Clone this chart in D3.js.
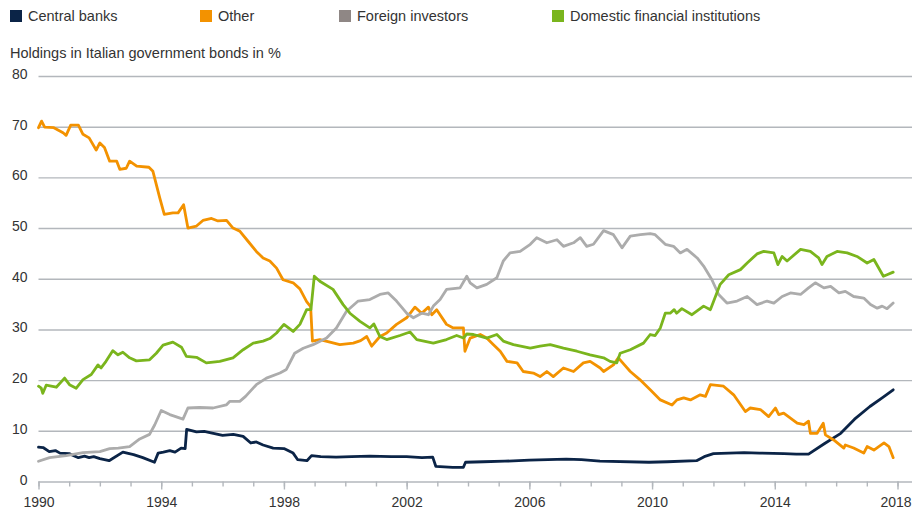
<!DOCTYPE html>
<html>
<head>
<meta charset="utf-8">
<script src="https://cdn.jsdelivr.net/npm/d3@7"></script>
<style>
  body { margin: 0; background: #fff; }
  text { font-family: "Liberation Sans", Arial, sans-serif; fill: #333; }
</style>
</head>
<body>
<div class="chart"></div>
<script>
// [decimal year, % of Italian government bonds held]
const centralBanks = [[1990.0,6.8],[1990.15,6.7],[1990.35,5.9],[1990.55,6.1],[1990.7,5.6],[1991.0,5.5],[1991.3,4.7],[1991.5,5.0],[1991.65,4.7],[1991.8,4.9],[1992.0,4.5],[1992.3,4.1],[1992.75,5.8],[1993.1,5.3],[1993.4,4.7],[1993.78,3.8],[1993.9,5.6],[1994.07,5.8],[1994.28,6.1],[1994.45,5.8],[1994.65,6.6],[1994.78,6.5],[1994.83,10.3],[1995.15,9.8],[1995.4,9.9],[1995.7,9.5],[1996.0,9.1],[1996.35,9.3],[1996.67,8.9],[1996.92,7.6],[1997.1,7.8],[1997.32,7.2],[1997.65,6.6],[1998.0,6.5],[1998.3,5.6],[1998.45,4.3],[1998.75,4.1],[1998.9,5.1],[1999.2,4.9],[1999.7,4.8],[2000.2,4.9],[2000.8,5.0],[2001.5,4.9],[2002.0,4.9],[2002.5,4.7],[2002.85,4.8],[2002.95,3.0],[2003.5,2.8],[2003.85,2.8],[2003.92,3.8],[2004.5,3.9],[2005.2,4.0],[2006.0,4.2],[2007.2,4.4],[2007.7,4.3],[2008.3,4.0],[2009.9,3.8],[2010.5,3.9],[2011.45,4.1],[2011.7,4.9],[2012.0,5.5],[2013.0,5.7],[2013.5,5.6],[2014.3,5.5],[2014.7,5.4],[2015.1,5.4],[2015.6,7.4],[2016.15,9.5],[2016.6,12.3],[2017.1,14.8],[2017.5,16.5],[2017.86,18.1]];

const other = [[1990.0,69.8],[1990.1,71.1],[1990.2,69.9],[1990.5,69.8],[1990.8,68.8],[1990.9,68.3],[1991.05,70.3],[1991.3,70.3],[1991.45,68.5],[1991.65,67.8],[1991.88,65.4],[1992.0,66.8],[1992.15,65.9],[1992.32,63.2],[1992.55,63.2],[1992.65,61.6],[1992.86,61.8],[1992.97,63.2],[1993.2,62.2],[1993.6,62.0],[1993.73,61.2],[1993.95,56.0],[1994.1,52.7],[1994.38,53.0],[1994.55,53.0],[1994.73,54.6],[1994.87,50.0],[1995.15,50.4],[1995.36,51.5],[1995.64,51.9],[1995.85,51.4],[1996.13,51.5],[1996.34,50.0],[1996.56,49.4],[1996.83,47.4],[1997.1,45.4],[1997.32,44.1],[1997.54,43.5],[1997.76,42.1],[1997.97,39.8],[1998.3,39.2],[1998.52,38.0],[1998.74,35.5],[1998.87,34.5],[1998.93,27.7],[1999.17,28.0],[1999.5,27.5],[1999.82,27.0],[2000.26,27.3],[2000.5,27.8],[2000.7,28.6],[2000.86,26.7],[2001.13,28.6],[2001.35,29.3],[2001.67,31.0],[2002.0,32.3],[2002.27,34.4],[2002.49,33.2],[2002.71,34.4],[2002.82,32.9],[2002.98,33.9],[2003.3,31.0],[2003.52,30.3],[2003.85,30.3],[2003.9,25.7],[2004.07,28.3],[2004.4,29.0],[2004.61,28.3],[2004.83,27.0],[2005.05,25.7],[2005.27,23.7],[2005.6,23.4],[2005.8,21.7],[2006.13,21.4],[2006.35,20.7],[2006.57,21.7],[2006.78,20.7],[2007.11,22.4],[2007.44,21.7],[2007.76,23.4],[2007.98,23.7],[2008.31,22.4],[2008.42,21.7],[2008.74,23.0],[2008.9,24.4],[2009.1,23.0],[2009.29,21.7],[2009.6,20.1],[2009.94,18.1],[2010.27,16.1],[2010.65,15.1],[2010.81,16.1],[2011.03,16.5],[2011.25,16.1],[2011.57,17.1],[2011.74,16.8],[2011.9,19.1],[2012.33,18.8],[2012.66,17.1],[2013.04,13.8],[2013.2,14.5],[2013.53,14.2],[2013.8,12.8],[2014.02,14.5],[2014.13,13.2],[2014.29,13.5],[2014.73,11.5],[2014.95,11.2],[2015.1,11.9],[2015.16,9.5],[2015.38,9.5],[2015.58,11.5],[2015.65,9.2],[2015.92,8.2],[2016.25,6.6],[2016.3,7.2],[2016.57,6.6],[2016.9,5.6],[2017.01,6.9],[2017.23,6.2],[2017.56,7.6],[2017.72,6.9],[2017.86,4.7]];

const foreignInvestors = [[1990.0,4.0],[1990.36,4.7],[1990.9,5.1],[1991.45,5.7],[1992.0,5.9],[1992.32,6.5],[1992.6,6.6],[1992.97,6.9],[1993.3,8.4],[1993.62,9.3],[1993.79,11.2],[1994.0,14.0],[1994.28,13.2],[1994.71,12.3],[1994.87,14.5],[1995.25,14.6],[1995.69,14.5],[1996.12,15.1],[1996.23,15.8],[1996.56,15.8],[1996.75,16.8],[1997.1,19.1],[1997.43,20.4],[1997.87,21.4],[1998.08,22.1],[1998.35,25.3],[1998.63,26.3],[1998.95,27.0],[1999.39,28.3],[1999.71,30.3],[2000.04,33.6],[2000.42,35.6],[2000.8,35.9],[2001.13,36.9],[2001.4,37.2],[2001.67,35.6],[2002.0,33.2],[2002.22,32.3],[2002.49,33.2],[2002.71,32.9],[2002.87,34.6],[2003.09,35.9],[2003.3,37.9],[2003.74,38.2],[2003.96,40.5],[2004.07,39.2],[2004.29,38.2],[2004.61,38.9],[2004.94,40.2],[2005.15,43.5],[2005.37,45.1],[2005.7,45.4],[2006.03,46.8],[2006.24,48.1],[2006.57,47.1],[2006.9,47.7],[2007.11,46.4],[2007.44,47.1],[2007.66,48.1],[2007.87,46.4],[2008.09,46.8],[2008.42,49.5],[2008.74,48.7],[2009.02,46.1],[2009.29,48.4],[2009.62,48.7],[2009.94,48.9],[2010.1,48.7],[2010.43,46.8],[2010.7,46.4],[2010.92,45.1],[2011.14,45.8],[2011.47,44.1],[2011.68,42.5],[2011.95,39.8],[2012.17,36.9],[2012.44,35.2],[2012.77,35.6],[2013.1,36.5],[2013.42,34.9],[2013.75,35.6],[2013.97,35.2],[2014.24,36.5],[2014.51,37.2],[2014.84,36.9],[2015.1,38.2],[2015.32,39.2],[2015.6,38.2],[2015.82,38.5],[2016.09,37.2],[2016.3,37.5],[2016.57,36.5],[2016.9,36.2],[2017.12,34.9],[2017.34,34.2],[2017.5,34.6],[2017.66,34.1],[2017.86,35.2]];

const domesticInstitutions = [[1990.0,18.8],[1990.09,18.4],[1990.14,17.4],[1990.25,19.0],[1990.58,18.6],[1990.85,20.4],[1991.01,19.1],[1991.23,18.4],[1991.45,20.1],[1991.72,21.1],[1991.94,23.0],[1992.04,22.4],[1992.2,23.7],[1992.42,25.8],[1992.59,25.0],[1992.75,25.5],[1992.97,24.4],[1993.19,23.8],[1993.62,24.0],[1993.84,25.3],[1994.06,26.9],[1994.38,27.5],[1994.66,26.5],[1994.82,24.7],[1995.15,24.5],[1995.47,23.4],[1995.91,23.7],[1996.34,24.4],[1996.67,26.0],[1997.0,27.3],[1997.32,27.7],[1997.54,28.2],[1997.76,29.3],[1998.0,31.0],[1998.3,29.6],[1998.52,31.0],[1998.74,33.9],[1998.88,33.9],[1998.99,40.5],[1999.17,39.5],[1999.6,37.9],[1999.93,34.9],[2000.15,33.2],[2000.48,31.6],[2000.8,30.3],[2000.93,31.1],[2001.13,28.6],[2001.35,28.0],[2001.78,28.8],[2002.11,29.5],[2002.33,28.0],[2002.87,27.3],[2003.3,28.0],[2003.63,28.8],[2003.85,28.3],[2003.96,29.1],[2004.18,29.0],[2004.61,28.3],[2004.94,29.0],[2005.15,27.7],[2005.48,27.0],[2006.03,26.3],[2006.35,26.7],[2006.68,27.0],[2007.11,26.3],[2007.55,25.7],[2007.98,25.0],[2008.42,24.4],[2008.63,23.7],[2008.85,23.4],[2008.96,25.3],[2009.29,26.0],[2009.72,27.3],[2009.94,29.0],[2010.1,28.8],[2010.27,30.3],[2010.43,33.2],[2010.59,33.2],[2010.72,33.9],[2010.8,33.2],[2010.97,34.1],[2011.3,32.9],[2011.68,34.6],[2011.9,33.9],[2012.22,38.9],[2012.5,40.8],[2012.88,41.8],[2013.1,43.1],[2013.42,44.9],[2013.64,45.4],[2013.97,45.1],[2014.1,42.8],[2014.24,44.4],[2014.4,43.5],[2014.84,45.8],[2015.16,45.4],[2015.43,44.1],[2015.54,42.8],[2015.7,44.4],[2016.03,45.4],[2016.36,45.1],[2016.68,44.4],[2017.01,43.1],[2017.23,43.8],[2017.54,40.5],[2017.66,40.8],[2017.86,41.3]];

const seriesNames = ["Central banks", "Other", "Foreign investors", "Domestic financial institutions"];
const seriesData = [centralBanks, other, foreignInvestors, domesticInstitutions];
const lineColors = ["#0b2447", "#f39200", "#acacac", "#7ab51d"];
const legendColors = ["#0b2447", "#f39200", "#8f8785", "#7ab51d"];
const legendX = [10, 200, 339, 552];

const yTicks = [0, 10, 20, 30, 40, 50, 60, 70, 80];
const yearLabels = [1990, 1994, 1998, 2002, 2006, 2010, 2014, 2018];
const allYears = d3.range(1990, 2019);

const W = 912, H = 515;
const margin = ({top: 76, right: 14.5, bottom: 33.5, left: 38.5});

const svg = d3.select(".chart").append("svg")
    .attr("width", W)
    .attr("height", H);

const xScale = d3.scaleLinear()
    .domain([1990, 2018])
    .range([margin.left, W - margin.right]);

const yScale = d3.scaleLinear()
    .domain([0, 80])
    .range([H - margin.bottom, margin.top]);

// gridlines + y labels
const yAxis = d3.axisLeft(yScale)
    .tickValues(yTicks)
    .tickSize(-(W - margin.left))
    .tickPadding(11)
    .tickFormat(d3.format("d"));

const gy = svg.append("g")
    .attr("class", "y-axis")
    .attr("transform", "translate(" + margin.left + ",0)")
    .call(yAxis);
gy.select(".domain").remove();
gy.selectAll("line").attr("stroke", "#b3b7bc").attr("stroke-width", 1.4);
gy.selectAll("text")
    .attr("dy", "0.18em")
    .style("font-size", "14px")
    .style("fill", "#333");

// x axis: yearly minor ticks, 4-year labelled ticks
const xMinor = d3.axisBottom(xScale)
    .tickValues(allYears)
    .tickSize(5)
    .tickFormat("");
const gxm = svg.append("g")
    .attr("transform", "translate(0," + yScale(0) + ")")
    .call(xMinor);
gxm.select(".domain").remove();
gxm.selectAll("line").attr("stroke", "#b3b7bc").attr("stroke-width", 1.4);

const xAxis = d3.axisBottom(xScale)
    .tickValues(yearLabels)
    .tickSize(8)
    .tickPadding(8)
    .tickFormat(d3.format("d"));
const gx = svg.append("g")
    .attr("class", "x-axis")
    .attr("transform", "translate(0," + yScale(0) + ")")
    .call(xAxis);
gx.select(".domain").remove();
gx.selectAll("line").attr("stroke", "#b3b7bc").attr("stroke-width", 1.4);
gx.selectAll("text")
    .style("font-size", "14px")
    .style("fill", "#333");
// last label sits at the right edge
gx.selectAll("text").filter(d => d === 2018).attr("dx", "-2");

// lines
const line = d3.line()
    .x(d => xScale(d[0]))
    .y(d => yScale(d[1]));

svg.selectAll(".series")
    .data(seriesData)
    .enter().append("path")
    .attr("class", "series")
    .attr("d", line)
    .attr("fill", "none")
    .attr("stroke", (d, i) => lineColors[i])
    .attr("stroke-width", 2.8)
    .attr("stroke-linejoin", "round")
    .attr("stroke-linecap", "round");

// legend
const legend = svg.selectAll(".legend")
    .data(seriesNames)
    .enter().append("g")
    .attr("class", "legend")
    .attr("transform", (d, i) => "translate(" + legendX[i] + ",10)");
legend.append("rect")
    .attr("width", 12)
    .attr("height", 12)
    .attr("fill", (d, i) => legendColors[i]);
legend.append("text")
    .attr("x", 18)
    .attr("y", 11)
    .style("font-size", "14.5px")
    .text(d => d);

// y title
svg.append("text")
    .attr("x", 10)
    .attr("y", 57.5)
    .style("font-size", "14.5px")
    .text("Holdings in Italian government bonds in %");
</script>
</body>
</html>
